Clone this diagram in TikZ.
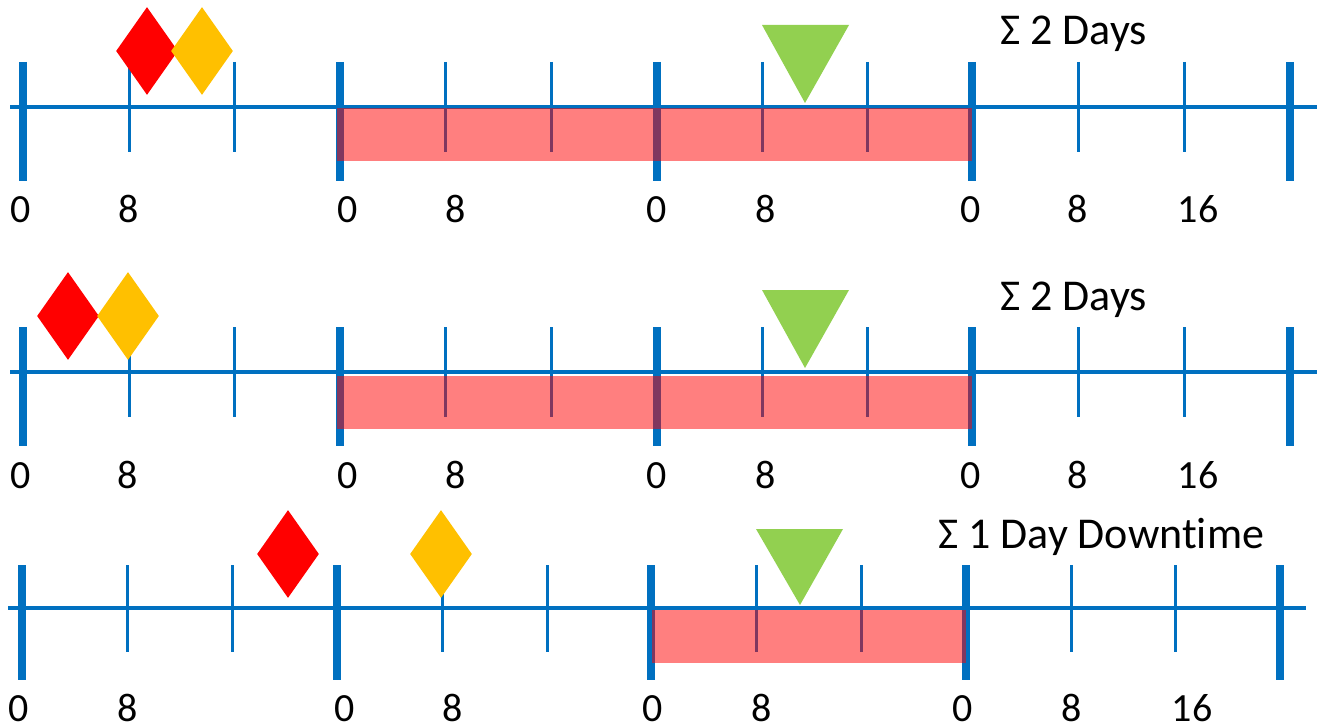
\documentclass[tikz,border=0pt]{standalone}
\usepackage{fontspec}
\setmainfont{Carlito}[Ligatures=NoCommon]
\usepackage{xcolor}
\usepackage{tikz}
\usetikzlibrary{shapes.geometric}

\definecolor{axisblue}{HTML}{0070C0}
\definecolor{alarmred}{HTML}{FF0000}
\definecolor{warnyellow}{HTML}{FFC000}
\definecolor{fixgreen}{HTML}{92D050}

\begin{document}
\begin{tikzpicture}[
  x=0.5pt, y=-0.5pt,
  every node/.style={font=\fontsize{20pt}{24pt}\selectfont},
  axis/.style={draw=axisblue, line width=2pt},
  major/.style={draw=axisblue, line width=3.75pt},
  minor/.style={draw=axisblue, line width=1.5pt},
  downtime/.style={fill=alarmred, fill opacity=0.5},
  fault/.style={diamond, inner sep=0pt, minimum width=31pt, minimum height=44pt},
  repair/.style={fill=fixgreen},
  hour/.style={anchor=base, inner sep=0pt},
  total/.style={anchor=base west, inner sep=0pt, font=\fontsize{22pt}{26pt}\selectfont}
]
  \useasboundingbox (0,0) rectangle (1321,727);

  % first case
  \draw[axis] (10,107) -- (1317,107);
  \foreach \x in {23,340,657,972,1290} \draw[major] (\x,62) -- (\x,181);
  \foreach \x in {129,234,445,551,762,867,1078,1184} \draw[minor] (\x,62) -- (\x,152);
  \fill[downtime] (337,108) rectangle (972,161);
  \node[fault, fill=alarmred]   (red1)    at (147,51) {};
  \node[fault, fill=warnyellow] (yellow1) at (202,51) {};
  \fill[repair] (762,25) -- (849,25) -- (805,103) -- cycle;
  \node[total] (sum1) at (1000,45) {Σ 2 Days};
  \foreach \x/\t [count=\i] in {21/0,129/8,348/0,456/8,657/0,766/8,971/0,1078/8,1198/16}
    \node[hour] (ha\i) at (\x,223) {\t};

  % second case
  \draw[axis] (10,372) -- (1317,372);
  \foreach \x in {23,340,657,972,1290} \draw[major] (\x,327) -- (\x,446);
  \foreach \x in {129,234,445,551,762,867,1078,1184} \draw[minor] (\x,327) -- (\x,417);
  \fill[downtime] (337,376) rectangle (972,429);
  \node[fault, fill=alarmred]   (red2)    at (68,316) {};
  \node[fault, fill=warnyellow] (yellow2) at (128,316) {};
  \fill[repair] (762,290) -- (849,290) -- (805,368) -- cycle;
  \node[total] (sum2) at (1000,310) {Σ 2 Days};
  \foreach \x/\t [count=\i] in {21/0,128/8,348/0,456/8,657/0,766/8,971/0,1078/8,1198/16}
    \node[hour] (hb\i) at (\x,488) {\t};

  % third case
  \draw[axis] (8,608) -- (1306,608);
  \foreach \x in {22,337,651,966,1280} \draw[major] (\x,565) -- (\x,680);
  \foreach \x in {127,232,442,547,756,861,1071,1175} \draw[minor] (\x,565) -- (\x,652);
  \fill[downtime] (652,610) rectangle (966,663);
  \node[fault, fill=alarmred]   (red3)    at (288,554) {};
  \node[fault, fill=warnyellow] (yellow3) at (441,554) {};
  \fill[repair] (756,529) -- (843,529) -- (800,605) -- cycle;
  \node[total] (sum3) at (938,548) {Σ 1 Day Downtime};
  \foreach \x/\t [count=\i] in {19/0,128/8,345/0,453/8,653/0,762/8,963/0,1072/8,1192/16}
    \node[hour] (hc\i) at (\x,721) {\t};
\end{tikzpicture}
\end{document}
